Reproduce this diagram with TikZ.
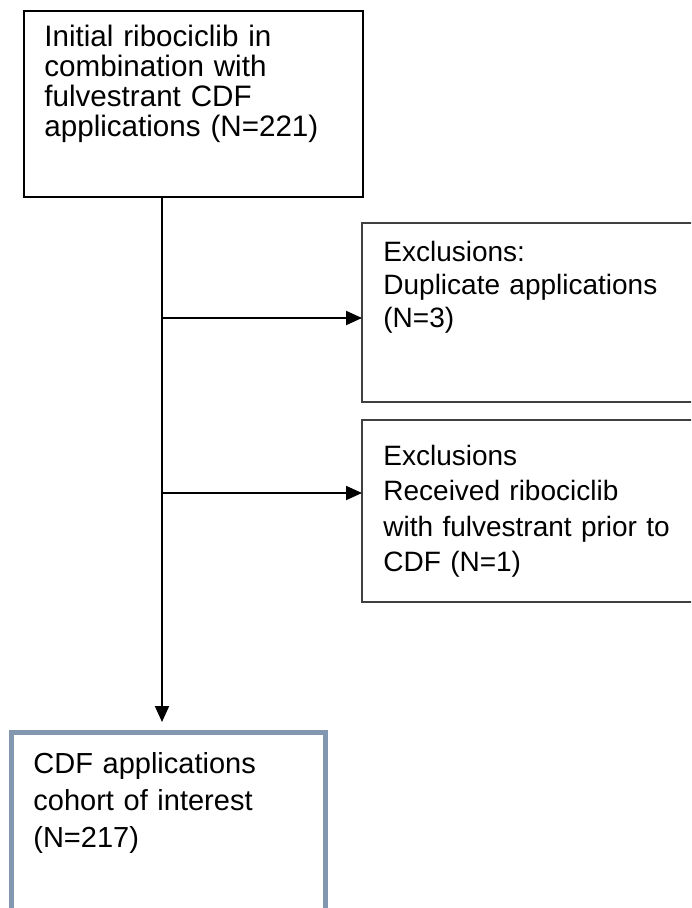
\documentclass[tikz,border=0pt]{standalone}
\usepackage{fontspec}
\setmainfont{Liberation Sans}
\usetikzlibrary{arrows.meta,positioning}
\definecolor{cohortBlue}{RGB}{132,151,176}
\definecolor{frameGray}{RGB}{64,64,64}

\begin{document}
\begin{tikzpicture}[x=0.5pt,y=-0.5pt,>={Triangle[length=8pt,width=7pt]},
  frame/.style={draw=frameGray,line width=0.7pt,inner sep=0pt,outer sep=0pt,anchor=north west},
  txt/.style={anchor=base west,inner sep=0pt,align=left,text width=160pt}]
  \useasboundingbox (0,0) rectangle (691,908);
  \clip (0,0) rectangle (691,908);
  % boxes
  \node[frame,draw=black,minimum width=169.5pt,minimum height=93pt] (init) at (24,11) {};
  \node[frame,minimum width=170pt,minimum height=89.5pt] (dupl) at (362,223) {};
  \node[frame,minimum width=170pt,minimum height=91pt] (prior) at (362,420) {};
  \node[frame,draw=cohortBlue,line width=2.5pt,minimum width=157pt,minimum height=100pt] (cohort) at (11.5,732.5) {};
  % texts
  \node[txt,font={\fontsize{14.8}{15}\selectfont}] (initText) at (44,47)
    {Initial ribociclib in\\ combination with\\ fulvestrant CDF\\ applications (N=221)};
  \node[txt,font={\fontsize{14}{16.3}\selectfont}] (duplText) at (383,262)
    {Exclusions:\\ Duplicate applications\\ (N=3)};
  \node[txt,font={\fontsize{14}{17.8}\selectfont}] (priorText) at (383,465)
    {Exclusions\\ Received ribociclib\\ with fulvestrant prior to\\ CDF (N=1)};
  \node[txt,font={\fontsize{14.5}{18.5}\selectfont}] (cohortText) at (33,773)
    {CDF applications\\ cohort of interest\\ (N=217)};
  % connectors
  \coordinate (stem) at ([shift={(138,0)}]init.south west);
  \coordinate (fork1) at ([shift={(0,121)}]stem);
  \coordinate (fork2) at ([shift={(0,296)}]stem);
  \draw[->,line width=1pt,shorten >=5.25pt] (stem) -- (stem |- cohort.north);
  \draw[->,line width=1pt] (fork1) -- (fork1 -| dupl.west);
  \draw[->,line width=1pt] (fork2) -- (fork2 -| prior.west);
\end{tikzpicture}
\end{document}
